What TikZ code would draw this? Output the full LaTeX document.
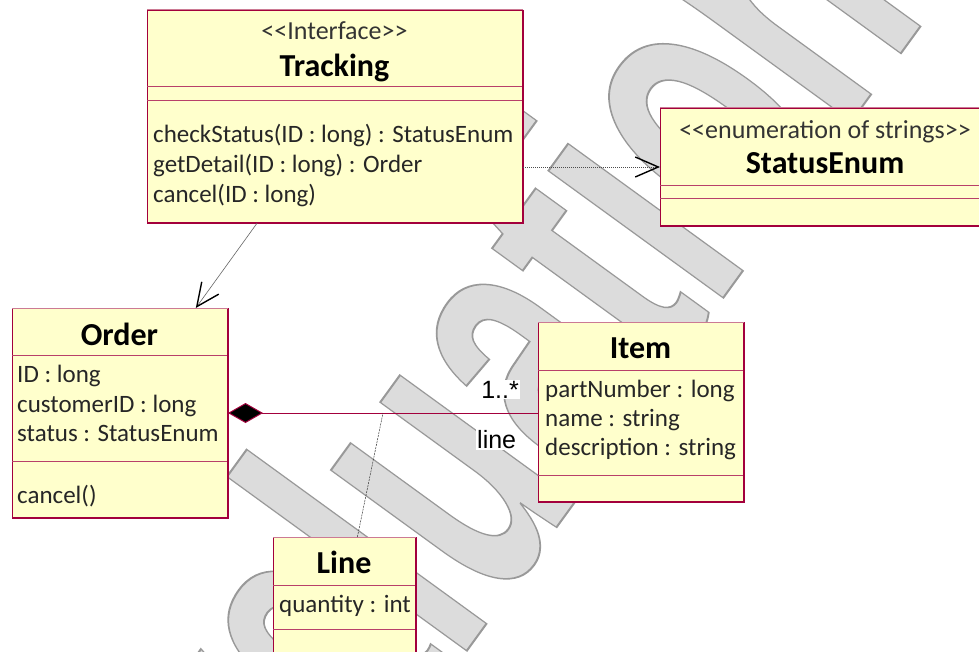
\documentclass[tikz,border=0pt]{standalone}
\usepackage{fontspec}
\usepackage{xcolor}
\usetikzlibrary{arrows.meta,calc}

\newfontfamily\umlfont{Carlito}
\newfontfamily\tagfont{Liberation Sans}
\newfontfamily\markfont{Liberation Sans}

\definecolor{classfill}{HTML}{FFFFCC}
\definecolor{classrim}{HTML}{A3003C}
\definecolor{classtop}{HTML}{CC7A94}
\definecolor{classsep}{HTML}{B8406A}
\definecolor{markfill}{HTML}{DCDCDC}

\newcommand\umltag[1]{<\kern0pt<#1>\kern0pt>}

\begin{document}
\begin{tikzpicture}[x=1pt,y=-1pt]
\tikzstyle{every node}+=[inner sep=0pt]
\tikzstyle{classbox}=[draw=classrim,fill=classfill,line width=1pt,anchor=north west]
\tikzstyle{classedge}=[draw=classrim,line width=2pt]
\tikzstyle{classlid}=[draw=classtop,line width=1pt]
\tikzstyle{classsplit}=[draw=classsep,line width=1pt]
\tikzstyle{stereo}=[font=\umlfont\fontsize{26}{30}\selectfont,text=black!80,anchor=base]
\tikzstyle{title}=[font=\umlfont\bfseries\fontsize{32}{38}\selectfont,anchor=base]
\tikzstyle{member}=[font=\umlfont\fontsize{25}{30}\selectfont,text=black!85,anchor=base west]
\tikzstyle{tag}=[font=\tagfont\fontsize{25}{30}\selectfont,fill=white,inner sep=1pt]
\tikzstyle{markword}=[font=\markfont\bfseries\fontsize{409}{409}\selectfont,text=markfill,rotate=54,xscale=0.6,anchor=base west]
\tikzstyle{depend}=[draw=black!60,line width=0.6pt,-{Straight Barb[length=23pt,width=21pt,line width=1.4pt,color=black]}]
\tikzstyle{realize}=[draw=black!70,line width=0.6pt,dash pattern=on 1pt off 1pt,-{Straight Barb[length=23pt,width=20pt,line width=1.4pt,color=black]}]
\tikzstyle{compose}=[draw=classrim,line width=1pt,{Diamond[length=35pt,width=20pt,fill=black]}-]
\tikzstyle{assoc}=[draw=black!80,line width=0.5pt,dash pattern=on 2pt off 1pt]

\useasboundingbox (0,0) rectangle (979,652);
\clip (0,0) rectangle (979,652);
\fill [white] (0,0) rectangle (979,652);

\node [markword] (evalmark) at (200,1018) {\special{pdf:code 2 Tr 0.6 G 2 w}Evaluation};

\node [classbox,minimum width=375,minimum height=212] (tracking) at (147,10) {};
\draw [classedge] (tracking.north east) -- (tracking.south east) -- (tracking.south west);
\draw [classlid] (tracking.north west) -- (tracking.north east);
\draw [classsplit] (147,87) -- (522,87);
\draw [classsplit] (147,101) -- (522,101);
\node [stereo] (trackingtag) at (334.5,40) {\umltag{Interface}};
\node [title] (trackingname) at (334.5,77) {Tracking};
\node [member] (checkstatus) at (153,143) {checkStatus(ID : long) : StatusEnum};
\node [member] (getdetail) at (153,173) {getDetail(ID : long) : Order};
\node [member] (cancelid) at (153,203) {cancel(ID : long)};

\node [classbox,minimum width=330,minimum height=117] (status) at (660,108) {};
\draw [classedge] (status.north east) -- (status.south east) -- (status.south west);
\draw [classlid] (status.north west) -- (status.north east);
\draw [classsplit] (660,186) -- (990,186);
\draw [classsplit] (660,199) -- (990,199);
\node [stereo] (statustag) at (825,139) {\umltag{enumeration of strings}};
\node [title] (statusname) at (825,174) {StatusEnum};

\node [classbox,minimum width=215,minimum height=209] (order) at (12,308) {};
\draw [classedge] (order.north east) -- (order.south east) -- (order.south west);
\draw [classlid] (order.north west) -- (order.north east);
\draw [classsplit] (12,355) -- (227,355);
\draw [classsplit] (12,461) -- (227,461);
\node [title] (ordername) at (119.5,345) {Order};
\node [member] (orderid) at (17,382) {ID : long};
\node [member] (customerid) at (17,412) {customerID : long};
\node [member] (orderstatus) at (17,441) {status : StatusEnum};
\node [member] (ordercancel) at (17,503) {cancel()};

\node [classbox,minimum width=205,minimum height=179] (item) at (538,322) {};
\draw [classedge] (item.north east) -- (item.south east) -- (item.south west);
\draw [classlid] (item.north west) -- (item.north east);
\draw [classsplit] (538,370) -- (743,370);
\draw [classsplit] (538,475) -- (743,475);
\node [title] (itemname) at (640.5,358) {Item};
\node [member] (partnumber) at (545,397) {partNumber : long};
\node [member] (itemname2) at (545,426) {name : string};
\node [member] (description) at (545,455) {description : string};

\node [classbox,minimum width=142,minimum height=150] (lineclass) at (273,537) {};
\draw [classedge] (lineclass.north east) -- (lineclass.south east) -- (lineclass.south west);
\draw [classlid] (lineclass.north west) -- (lineclass.north east);
\draw [classsplit] (273,585) -- (415,585);
\draw [classsplit] (273,629) -- (415,629);
\node [title] (linename) at (344,573) {Line};
\node [member] (quantity) at (279,612) {quantity : int};

\draw [depend] ($(tracking.south west)!0.293!(tracking.south east)$) -- ($(order.north west)!0.851!(order.north east)$);
\draw [realize] (status.west -| tracking.east) -- (status.west);
\draw [compose] (order.east) -- (order.east -| item.west);
\coordinate (linejoin) at ($(order.east)!0.5!(order.east -| item.west)$);
\draw [assoc] ($(lineclass.north west)!0.59!(lineclass.north east)$) -- (linejoin);
\node [tag,anchor=east] (manytag) at (520,389.5) {1..*};
\node [tag] (roletag) at (496.7,439.5) {line};
\end{tikzpicture}
\end{document}
